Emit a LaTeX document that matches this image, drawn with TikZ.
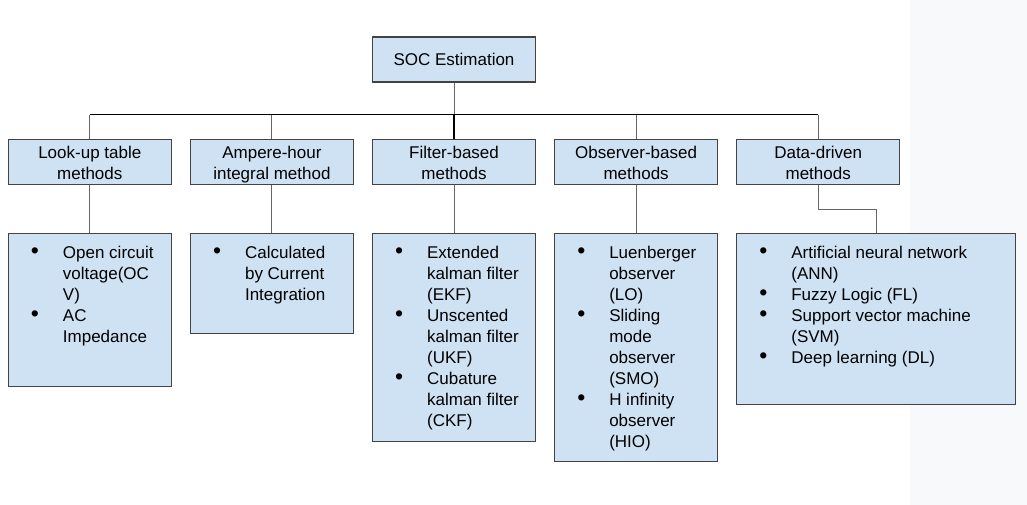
\documentclass[tikz,border=0pt]{standalone}
\usepackage{fontspec}
\setmainfont{Liberation Sans}
\usetikzlibrary{positioning}
\definecolor{boxfill}{HTML}{CFE2F3}
\definecolor{boxline}{HTML}{434343}
\definecolor{linkgray}{HTML}{666666}
\definecolor{pagestrip}{HTML}{F8F9FB}
\newcommand{\itm}{\hspace*{1pt}{\fontsize{23}{21}\selectfont\textbullet}}
\newenvironment{bullets}{\begin{tabular}{@{}p{33pt}@{}l@{}}}{\end{tabular}}

\begin{document}
\begin{tikzpicture}[
            x=1pt, y=1pt,
            node distance=18pt,
            every node/.style={font=\fontsize{17}{21}\selectfont},
            block/.style={rectangle, draw=boxline, fill=boxfill, line width=1.1pt,
                          minimum width=163pt, minimum height=45pt,
                          inner sep=0pt, align=center},
            twoline/.style={block, text height=40pt, text depth=5pt},
            listbox/.style={rectangle, draw=boxline, fill=boxfill, line width=1.1pt,
                            minimum width=163pt, inner sep=0pt},
            items/.style={anchor=north west, inner sep=0pt, align=left},
            link/.style={draw=linkgray, line width=0.9pt},
            bus/.style={draw=black, line width=1.1pt},
        ]
            \fill[pagestrip] (910,0) rectangle (1027,505);
            \useasboundingbox (0,0) rectangle (1027,505);

            \node[block] (root) at (454,445.5) {SOC Estimation};

            \node[twoline, below=56pt of root] (filter) {Filter-based\\methods};
            \node[twoline, left=of filter] (amp) {Ampere-hour\\integral method};
            \node[twoline, left=of amp] (look) {Look-up table\\methods};
            \node[twoline, right=of filter] (obs) {Observer-based\\methods};
            \node[twoline, right=of obs] (data) {Data-driven\\methods};

            \coordinate[below=32pt of root] (split);

            % method lists
            \node[listbox, minimum height=153pt, below=48pt of look] (lookbox) {};
            \node[listbox, minimum height=100pt, below=48pt of amp] (ampbox) {};
            \node[listbox, minimum height=208pt, below=48pt of filter] (filterbox) {};
            \node[listbox, minimum height=228pt, below=48pt of obs] (obsbox) {};
            \node[listbox, minimum width=279pt, minimum height=171pt,
                  below=48pt of data.south west, anchor=north west] (databox) {};

            \node[items] (lookitems) at ([xshift=22pt, yshift=-11pt]lookbox.north west) {%
                \begin{bullets}
                \itm & Open circuit\\
                     & voltage(OC\\
                     & V)\\
                \itm & AC\\
                     & Impedance
                \end{bullets}};
            \node[items] (ampitems) at ([xshift=22pt, yshift=-11pt]ampbox.north west) {%
                \begin{bullets}
                \itm & Calculated\\
                     & by Current\\
                     & Integration
                \end{bullets}};
            \node[items] (filteritems) at ([xshift=22pt, yshift=-11pt]filterbox.north west) {%
                \begin{bullets}
                \itm & Extended\\
                     & kalman filter\\
                     & (EKF)\\
                \itm & Unscented\\
                     & kalman filter\\
                     & (UKF)\\
                \itm & Cubature\\
                     & kalman filter\\
                     & (CKF)
                \end{bullets}};
            \node[items] (obsitems) at ([xshift=22pt, yshift=-11pt]obsbox.north west) {%
                \begin{bullets}
                \itm & Luenberger\\
                     & observer\\
                     & (LO)\\
                \itm & Sliding\\
                     & mode\\
                     & observer\\
                     & (SMO)\\
                \itm & H infinity\\
                     & observer\\
                     & (HIO)
                \end{bullets}};
            \node[items] (dataitems) at ([xshift=22pt, yshift=-11pt]databox.north west) {%
                \begin{bullets}
                \itm & Artificial neural network\\
                     & (ANN)\\
                \itm & Fuzzy Logic (FL)\\
                \itm & Support vector machine\\
                     & (SVM)\\
                \itm & Deep learning (DL)
                \end{bullets}};

            % tree connectors
            \draw[link] (root) -- (split);
            \foreach \n in {look, amp, obs, data}
                \draw[link] (split -| \n.north) -- (\n.north);
            \draw[bus] (split) -- (filter.north);
            \draw[bus] (split -| look.north) -- (split -| data.north);

            \foreach \n in {look, amp, filter, obs}
                \draw[link] (\n) -- (\n box);
            \draw[link] (data.south) -- ++(0,-25pt) -| (databox.north);
        \end{tikzpicture}
\end{document}
